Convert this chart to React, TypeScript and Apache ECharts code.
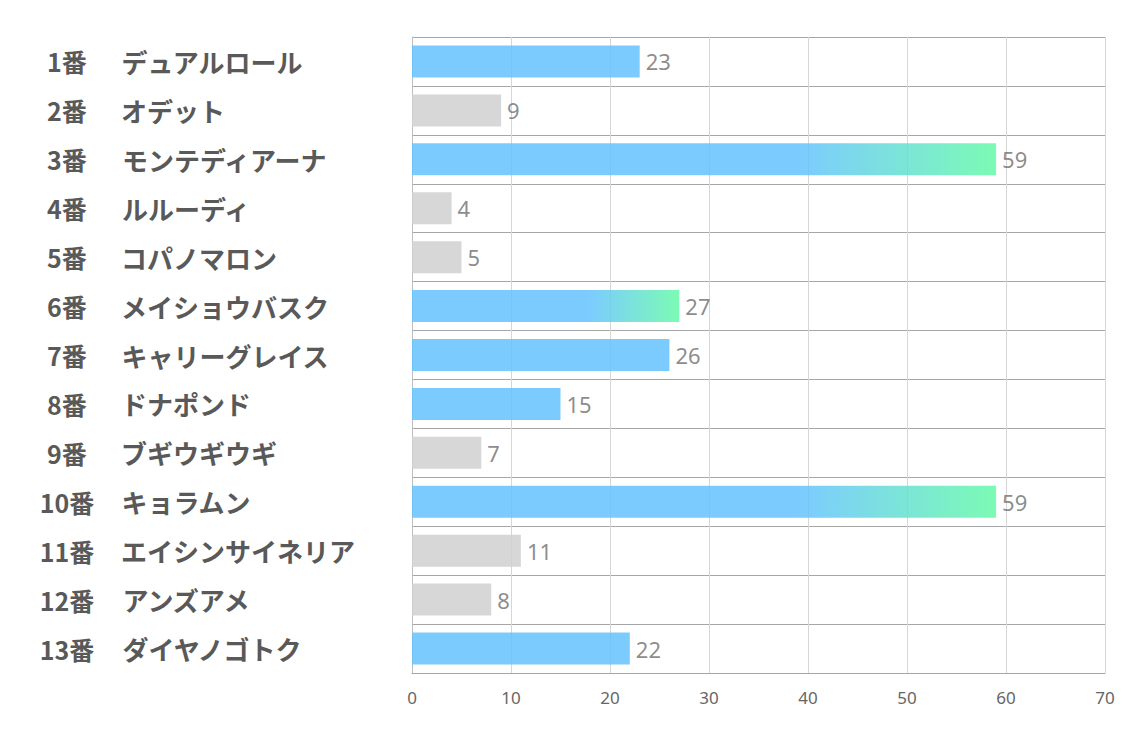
import React, { useEffect, useRef } from "react";
import * as echarts from "echarts";

const numbers = ["1番", "2番", "3番", "4番", "5番", "6番", "7番", "8番", "9番", "10番", "11番", "12番", "13番"];
const horses = [
  "デュアルロール", "オデット", "モンテディアーナ", "ルルーディ", "コパノマロン",
  "メイショウバスク", "キャリーグレイス", "ドナポンド", "ブギウギウギ", "キョラムン",
  "エイシンサイネリア", "アンズアメ", "ダイヤノゴトク",
];
const values = [23, 9, 59, 4, 5, 27, 26, 15, 7, 59, 11, 8, 22];
const xTicks = [0, 10, 20, 30, 40, 50, 60, 70];

const GRADIENT_TOP = 3;
const BLUE_TOP = 7;

export default function App() {
  const ref = useRef<HTMLDivElement>(null);
  useEffect(() => {
    if (!ref.current) return;
    const chart = echarts.init(ref.current, undefined, { renderer: "svg" });
    const sorted = values.map((v, i) => ({ v, i })).sort((a, b) => b.v - a.v || a.i - b.i);
    const rank: number[] = [];
    sorted.forEach((o, r) => (rank[o.i] = r));
    const blue = "rgb(101,194,255)";
    const gray = "rgb(208,208,208)";
    const data = values.map((v, i) => {
      let color: any = gray;
      if (rank[i] < GRADIENT_TOP) {
        color = new echarts.graphic.LinearGradient(0, 0, 1, 0, [
          { offset: 0, color: blue },
          { offset: 0.66, color: blue },
          { offset: 1, color: "rgb(100,250,168)" },
        ]);
      } else if (rank[i] < BLUE_TOP) {
        color = blue;
      }
      return { value: v, itemStyle: { color, opacity: 0.85 } };
    });
    const cats = numbers.map((n, i) => `${n}|${horses[i]}`);
    chart.setOption({
      animation: false,
      grid: { left: 412, right: 29, top: 37, bottom: 64, containLabel: false },
      xAxis: {
        type: "value",
        min: xTicks[0],
        max: xTicks[xTicks.length - 1],
        interval: 10,
        axisLine: { show: true, lineStyle: { color: "#a6a6a6", width: 1 } },
        axisTick: { show: false },
        splitLine: { show: true, lineStyle: { color: "#d6d6d6", width: 1 } },
        axisLabel: {
          color: "#666",
          fontSize: 17,
          margin: 16,
          fontFamily: "'Liberation Sans Narrow', 'Noto Sans', sans-serif",
        },
      },
      yAxis: {
        type: "category",
        inverse: true,
        data: cats,
        axisLine: { show: true, lineStyle: { color: "#bfbfbf", width: 1 } },
        axisTick: { show: false },
        splitLine: { show: true, lineStyle: { color: "#a6a6a6", width: 1 } },
        axisLabel: {
          align: "left",
          margin: 372,
          formatter: (val: string) => {
            const [n, h] = val.split("|");
            return `{a|${n}}{b|${h}}`;
          },
          rich: {
            a: {
              width: 54,
              align: "right",
              fontSize: 25,
              fontWeight: "bold",
              color: "#595959",
              fontFamily: "Noto Sans CJK JP",
            },
            b: {
              fontSize: 26,
              fontWeight: "bold",
              color: "#595959",
              padding: [0, 0, 0, 27],
              fontFamily: "Noto Sans CJK JP",
            },
          },
        },
      },
      series: [
        {
          type: "bar",
          data,
          barWidth: 32,
          label: {
            show: true,
            position: "right",
            distance: 6,
            color: "#777",
            fontSize: 22,
            fontFamily: "Noto Sans",
          },
        },
      ],
    });
    return () => chart.dispose();
  }, []);
  return (
    <div
      ref={ref}
      style={{ position: "fixed", left: 0, top: 0, width: 1134, height: 737, background: "#fff" }}
    />
  );
}
